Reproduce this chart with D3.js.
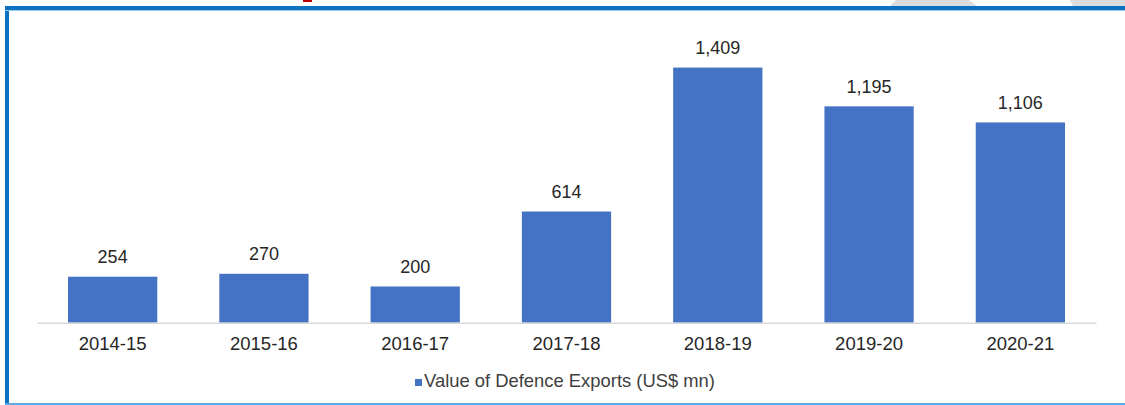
<!DOCTYPE html>
<html>
<head>
<meta charset="utf-8">
<script src="https://cdn.jsdelivr.net/npm/d3@7"></script>
<style>
  body { margin: 0; background: #fff; }
  svg { display: block; font-family: "Liberation Sans", Arial, sans-serif; }
</style>
</head>
<body>
<div id="chart"></div>
<script>
// data
var years = ["2014-15", "2015-16", "2016-17", "2017-18", "2018-19", "2019-20", "2020-21"];
var exportValues = [254, 270, 200, 614, 1409, 1195, 1106];
var seriesName = "Value of Defence Exports (US$ mn)";

var width = 1125, height = 405;
var barColor = "#4472c4";

var svg = d3.select("#chart")
  .append("svg")
  .attr("width", width)
  .attr("height", height);

// grey page decorations above the frame
svg.append("path")
  .attr("d", "M896,0 L969,0 L977,6 L890,6 Z")
  .attr("fill", "#dcdcdc");
svg.append("path")
  .attr("d", "M1070,0 L1125,0 L1125,6 L1073,6 Z")
  .attr("fill", "#dcdcdc");
// small red mark at the top
svg.append("rect")
  .attr("x", 303).attr("y", 0)
  .attr("width", 9).attr("height", 2)
  .attr("fill", "#c00000");

// blue frame (top, left, bottom)
svg.append("rect")
  .attr("x", 5).attr("y", 6)
  .attr("width", width - 5).attr("height", 4)
  .attr("fill", "#0b72c1");
svg.append("rect")
  .attr("x", 5).attr("y", 6)
  .attr("width", 4).attr("height", height - 6)
  .attr("fill", "#0b72c1");
svg.append("rect")
  .attr("x", 5).attr("y", 10)
  .attr("width", width - 5).attr("height", 1)
  .attr("fill", "#9ccbee");
svg.append("rect")
  .attr("x", 5).attr("y", 403)
  .attr("width", width - 5).attr("height", 2)
  .attr("fill", "#5aaae6");

// scales
var x = d3.scaleBand()
  .domain(years)
  .range([37, 1096])
  .paddingInner(0.41)
  .paddingOuter(0.205);

var y = d3.scaleLinear()
  .domain([0, 1600])
  .range([322.7, 33]);

// bars
svg.selectAll(".bar")
  .data(exportValues)
  .enter()
  .append("rect")
  .attr("class", "bar")
  .attr("x", function (d, i) { return x(years[i]); })
  .attr("y", function (d) { return y(d); })
  .attr("width", x.bandwidth())
  .attr("height", function (d) { return y(0) - y(d); })
  .attr("fill", barColor);

// value labels
var fmt = d3.format(",");
svg.selectAll(".value")
  .data(exportValues)
  .enter()
  .append("text")
  .attr("class", "value")
  .attr("x", function (d, i) { return x(years[i]) + x.bandwidth() / 2; })
  .attr("y", function (d) { return y(d) - 13.5; })
  .attr("text-anchor", "middle")
  .attr("font-size", "18px")
  .attr("fill", "#262626")
  .text(function (d) { return fmt(d); });

// x axis
var xAxis = d3.axisBottom(x).tickSize(0).tickPadding(0);
var axisG = svg.append("g")
  .attr("transform", "translate(0," + y(0) + ")")
  .call(xAxis);
axisG.select(".domain")
  .attr("stroke", "#d9d9d9")
  .attr("stroke-width", 1.5);
axisG.selectAll("text")
  .attr("font-size", "18.5px")
  .attr("font-family", "Liberation Sans, Arial, sans-serif")
  .attr("fill", "#262626")
  .attr("dy", "27px");

// legend
var legend = svg.append("g")
  .attr("transform", "translate(415,379)");
legend.append("rect")
  .attr("width", 7)
  .attr("height", 7)
  .attr("fill", barColor);
legend.append("text")
  .attr("x", 9)
  .attr("y", 8)
  .attr("font-size", "18.4px")
  .attr("fill", "#404040")
  .text(seriesName);
</script>
</body>
</html>
